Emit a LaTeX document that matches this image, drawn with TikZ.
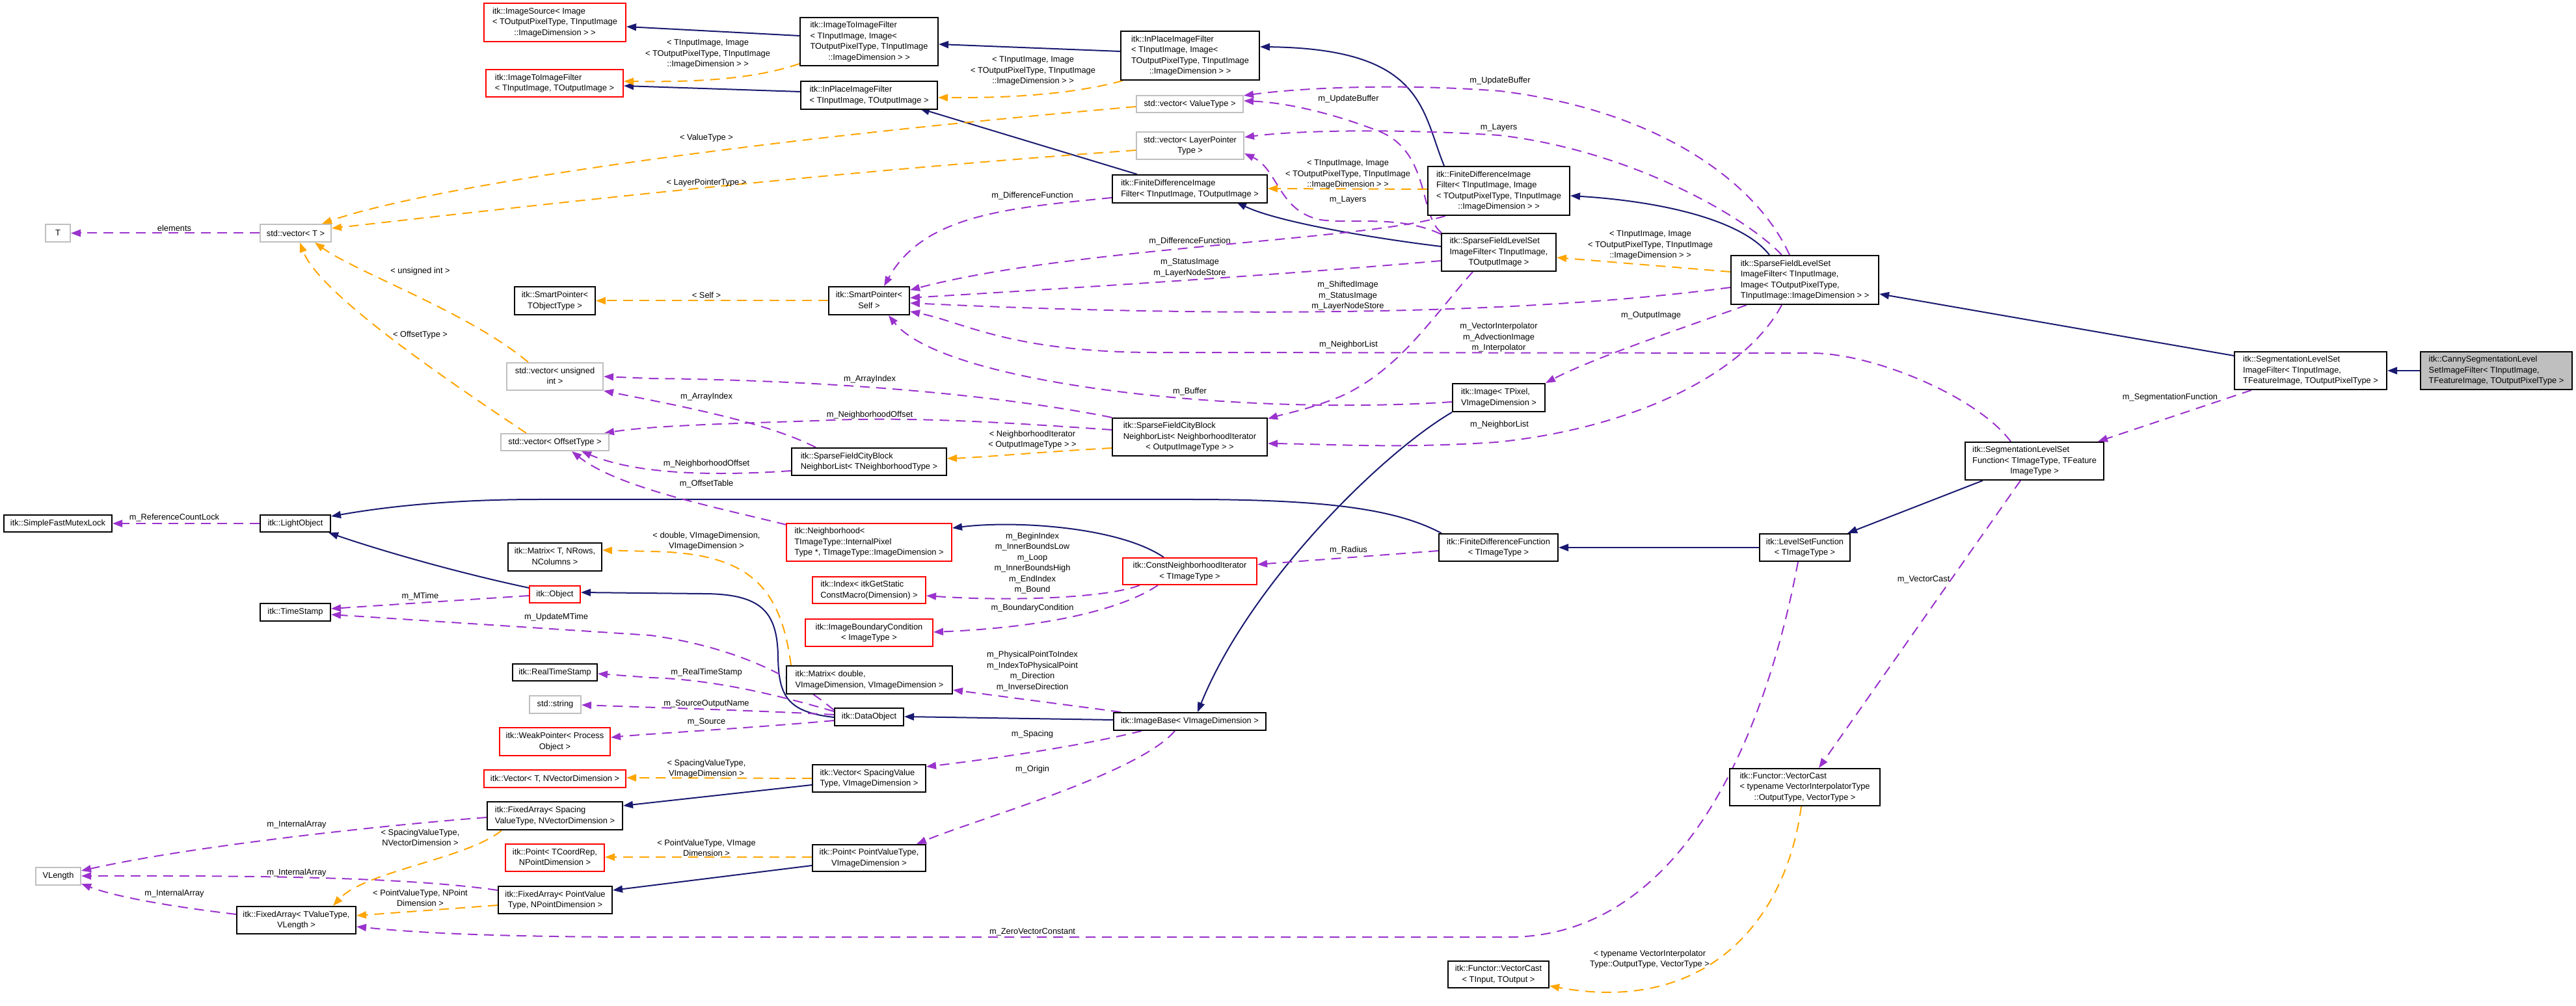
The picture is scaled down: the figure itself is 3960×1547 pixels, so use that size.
\documentclass[tikz,border=0pt]{standalone}
\usepackage{fontspec}
\setmainfont{Liberation Sans}
\usetikzlibrary{arrows.meta,calc}
\definecolor{inhC}{HTML}{191970}
\definecolor{memC}{HTML}{9A32CD}
\definecolor{tplC}{HTML}{FFA500}
\definecolor{redC}{HTML}{FF0000}
\definecolor{greyC}{HTML}{BFBFBF}
\newcommand{\nf}{\fontsize{3.65}{4.69}\selectfont}
\newcommand{\dxml}[2]{\begin{tabular}{@{}l@{}}#1\\\multicolumn{1}{@{}c@{}}{#2}\end{tabular}}
\newcommand{\dxnode}[7]{\node[#2, minimum width={(#5-#3)*0.1mm}, minimum height={(#6-#4)*0.1mm}] (#1) at ({(#3+#5)/2},{(#4+#6)/2}) {#7};}
\pgfdeclarelayer{bg}
\pgfsetlayers{bg,main}
\tikzset{
  cls/.style={draw=black, fill=white, line width=0.2mm, inner sep=0.3mm, font=\nf},
  clsred/.style={cls, draw=redC},
  clsgrey/.style={cls, draw=greyC},
  clscur/.style={cls, fill=greyC},
  elab/.style={font=\nf, align=center, inner sep=0},
  inh/.style={draw=inhC, line width=0.2mm, -{Triangle[length=1.5mm,width=1.1mm]}},
  mem/.style={draw=memC, line width=0.2mm, dash pattern=on 1.5mm off 1mm, -{Triangle[length=1.5mm,width=1.1mm]}},
  tpl/.style={draw=tplC, line width=0.2mm, dash pattern=on 1.5mm off 1mm, -{Triangle[length=1.5mm,width=1.1mm]}}
}
\begin{document}
\begin{tikzpicture}[x=0.1mm, y=-0.1mm]
\begin{pgfonlayer}{bg}
\fill[white] (0,0) rectangle (3960,1547);
\end{pgfonlayer}
\path[use as bounding box] (0,0) rectangle (3960,1547);

% ---------------- classes ----------------
\dxnode{ImgSrc}{clsred}{744}{5}{962}{64}{\dxml{itk::ImageSource< Image\\< TOutputPixelType, TInputImage}{::ImageDimension > >}}
\dxnode{I2IF}{clsred}{747}{107}{958}{149}{\dxml{itk::ImageToImageFilter}{< TInputImage, TOutputImage >}}
\dxnode{T}{clsgrey}{70}{345}{108}{372}{T}
\dxnode{VecT}{clsgrey}{400}{345}{509}{372}{std::vector< T >}
\dxnode{SPTObj}{cls}{791}{441}{915}{484}{\dxml{itk::SmartPointer<}{TObjectType >}}
\dxnode{I2IFImg}{cls}{1230}{27}{1442}{101}{\dxml{itk::ImageToImageFilter\\< TInputImage, Image<\\TOutputPixelType, TInputImage}{::ImageDimension > >}}
\dxnode{IPIFImg}{cls}{1723}{48}{1936}{123}{\dxml{itk::InPlaceImageFilter\\< TInputImage, Image<\\TOutputPixelType, TInputImage}{::ImageDimension > >}}
\dxnode{IPIF}{cls}{1231}{125}{1441}{168}{\dxml{itk::InPlaceImageFilter}{< TInputImage, TOutputImage >}}
\dxnode{VecVal}{clsgrey}{1747}{147}{1911}{173}{std::vector< ValueType >}
\dxnode{VecLP}{clsgrey}{1747}{203}{1912}{245}{\dxml{std::vector< LayerPointer}{Type >}}
\dxnode{FDIF}{cls}{1710}{269}{1948}{312}{\dxml{itk::FiniteDifferenceImage}{Filter< TInputImage, TOutputImage >}}
\dxnode{SPSelf}{cls}{1274}{441}{1398}{484}{\dxml{itk::SmartPointer<}{Self >}}
\dxnode{FDIFImg}{cls}{2195}{256}{2413}{331}{\dxml{itk::FiniteDifferenceImage\\Filter< TInputImage, Image\\< TOutputPixelType, TInputImage}{::ImageDimension > >}}
\dxnode{SFLS}{cls}{2216}{359}{2392}{417}{\dxml{itk::SparseFieldLevelSet\\ImageFilter< TInputImage,}{TOutputImage >}}
\dxnode{SFLSImg}{cls}{2661}{393}{2888}{468}{\dxml{itk::SparseFieldLevelSet\\ImageFilter< TInputImage,\\Image< TOutputPixelType,}{TInputImage::ImageDimension > >}}
\dxnode{SegF}{cls}{3435}{541}{3669}{599}{\dxml{itk::SegmentationLevelSet\\ImageFilter< TInputImage,}{TFeatureImage, TOutputPixelType >}}
\dxnode{Canny}{clscur}{3721}{541}{3954}{599}{\dxml{itk::CannySegmentationLevel\\SetImageFilter< TInputImage,}{TFeatureImage, TOutputPixelType >}}
\dxnode{SegFn}{cls}{3021}{680}{3234}{738}{\dxml{itk::SegmentationLevelSet\\Function< TImageType, TFeature}{ImageType >}}
\dxnode{VecUInt}{clsgrey}{779}{558}{927}{600}{\dxml{std::vector< unsigned}{int >}}
\dxnode{VecOff}{clsgrey}{770}{667}{936}{693}{std::vector< OffsetType >}
\dxnode{SFML}{cls}{6}{792}{172}{818}{itk::SimpleFastMutexLock}
\dxnode{LightObj}{cls}{400}{792}{508}{818}{itk::LightObject}
\dxnode{MatT}{cls}{781}{835}{925}{878}{\dxml{itk::Matrix< T, NRows,}{NColumns >}}
\dxnode{Obj}{clsred}{814}{901}{892}{927}{itk::Object}
\dxnode{TS}{cls}{400}{928}{508}{955}{itk::TimeStamp}
\dxnode{SFCBNLT}{cls}{1217}{689}{1455}{731}{\dxml{itk::SparseFieldCityBlock}{NeighborList< TNeighborhoodType >}}
\dxnode{SFCBNLNI}{cls}{1710}{643}{1948}{701}{\dxml{itk::SparseFieldCityBlock\\NeighborList< NeighborhoodIterator}{< OutputImageType > >}}
\dxnode{Nbhd}{clsred}{1209}{805}{1463}{863}{\dxml{itk::Neighborhood<\\TImageType::InternalPixel}{Type *, TImageType::ImageDimension >}}
\dxnode{Idx}{clsred}{1249}{887}{1423}{928}{\dxml{itk::Index< itkGetStatic}{ConstMacro(Dimension) >}}
\dxnode{IBC}{clsred}{1238}{952}{1434}{994}{\dxml{itk::ImageBoundaryCondition}{< ImageType >}}
\dxnode{CNI}{clsred}{1726}{858}{1932}{899}{\dxml{itk::ConstNeighborhoodIterator}{< TImageType >}}
\dxnode{Img}{cls}{2233}{590}{2375}{633}{\dxml{itk::Image< TPixel,}{VImageDimension >}}
\dxnode{FDF}{cls}{2212}{821}{2395}{863}{\dxml{itk::FiniteDifferenceFunction}{< TImageType >}}
\dxnode{LSF}{cls}{2705}{821}{2844}{863}{\dxml{itk::LevelSetFunction}{< TImageType >}}
\dxnode{VCTyp}{cls}{2659}{1182}{2890}{1239}{\dxml{itk::Functor::VectorCast\\< typename VectorInterpolatorType}{::OutputType, VectorType >}}
\dxnode{VCIn}{cls}{2226}{1478}{2381}{1519}{\dxml{itk::Functor::VectorCast}{< TInput, TOutput >}}
\dxnode{MatD}{cls}{1209}{1024}{1464}{1067}{\dxml{itk::Matrix< double,}{VImageDimension, VImageDimension >}}
\dxnode{DataObj}{cls}{1283}{1089}{1389}{1116}{itk::DataObject}
\dxnode{ImgBase}{cls}{1712}{1096}{1946}{1123}{itk::ImageBase< VImageDimension >}
\dxnode{VecSp}{cls}{1249}{1176}{1423}{1218}{\dxml{itk::Vector< SpacingValue}{Type, VImageDimension >}}
\dxnode{PtPV}{cls}{1249}{1299}{1423}{1340}{\dxml{itk::Point< PointValueType,}{VImageDimension >}}
\dxnode{RTS}{cls}{788}{1021}{918}{1047}{itk::RealTimeStamp}
\dxnode{StdStr}{clsgrey}{814}{1070}{893}{1097}{std::string}
\dxnode{WeakPtr}{clsred}{768}{1119}{938}{1162}{\dxml{itk::WeakPointer< Process}{Object >}}
\dxnode{VecTN}{clsred}{744}{1184}{962}{1211}{itk::Vector< T, NVectorDimension >}
\dxnode{FASp}{cls}{749}{1233}{957}{1276}{\dxml{itk::FixedArray< Spacing}{ValueType, NVectorDimension >}}
\dxnode{PtTC}{clsred}{777}{1298}{929}{1340}{\dxml{itk::Point< TCoordRep,}{NPointDimension >}}
\dxnode{FAPV}{cls}{766}{1363}{941}{1405}{\dxml{itk::FixedArray< PointValue}{Type, NPointDimension >}}
\dxnode{VLength}{clsgrey}{55}{1334}{124}{1361}{VLength}
\dxnode{FATV}{cls}{364}{1394}{547}{1436}{\dxml{itk::FixedArray< TValueType,}{VLength >}}

% ---------------- edge labels ----------------
\node[elab] (lO1) at (1088,83) {< TInputImage, Image\\< TOutputPixelType, TInputImage\\::ImageDimension > >};
\node[elab] (lO2) at (1588,109) {< TInputImage, Image\\< TOutputPixelType, TInputImage\\::ImageDimension > >};
\node[elab] (lO8) at (2072,268) {< TInputImage, Image\\< TOutputPixelType, TInputImage\\::ImageDimension > >};
\node[elab] (lO9) at (2537,377) {< TInputImage, Image\\< TOutputPixelType, TInputImage\\::ImageDimension > >};
\node[elab] (lO3) at (1086,212) {< ValueType >};
\node[elab] (lO4) at (1086,281) {< LayerPointerType >};
\node[elab] (lO5) at (1086,454) {< Self >};
\node[elab] (lO6) at (646,417) {< unsigned int >};
\node[elab] (lO7) at (646,515) {< OffsetType >};
\node[elab] (lO10) at (1587,676) {< NeighborhoodIterator\\< OutputImageType > >};
\node[elab] (lO11) at (1086,832) {< double, VImageDimension,\\VImageDimension >};
\node[elab] (lO12) at (1086,1182) {< SpacingValueType,\\VImageDimension >};
\node[elab] (lO13) at (1086,1304) {< PointValueType, VImage\\Dimension >};
\node[elab] (lO14) at (646,1288) {< SpacingValueType,\\NVectorDimension >};
\node[elab] (lO15) at (646,1381) {< PointValueType, NPoint\\Dimension >};
\node[elab] (lO16) at (2536,1475) {< typename VectorInterpolator\\Type::OutputType, VectorType >};

\node[elab] (lM1) at (268,796) {m\_ReferenceCountLock};
\node[elab] (lM2) at (268,351) {elements};
\node[elab] (lM3) at (646,917) {m\_MTime};
\node[elab] (lM4) at (855,949) {m\_UpdateMTime};
\node[elab] (lM5) at (1086,1034) {m\_RealTimeStamp};
\node[elab] (lM6) at (1086,1082) {m\_SourceOutputName};
\node[elab] (lM7) at (1086,1110) {m\_Source};
\node[elab] (lM8) at (1587,301) {m\_DifferenceFunction};
\node[elab] (lM9) at (1829,371) {m\_DifferenceFunction};
\node[elab] (lM10) at (1829,412) {m\_StatusImage\\m\_LayerNodeStore};
\node[elab] (lM11) at (2072,455) {m\_ShiftedImage\\m\_StatusImage\\m\_LayerNodeStore};
\node[elab] (lM12) at (2304,519) {m\_VectorInterpolator\\m\_AdvectionImage\\m\_Interpolator};
\node[elab] (lM13) at (1829,602) {m\_Buffer};
\node[elab] (lM14) at (2073,152) {m\_UpdateBuffer};
\node[elab] (lM15) at (2072,307) {m\_Layers};
\node[elab] (lM16) at (2306,124) {m\_UpdateBuffer};
\node[elab] (lM17) at (2304,196) {m\_Layers};
\node[elab] (lM18) at (2073,530) {m\_NeighborList};
\node[elab] (lM19) at (2305,653) {m\_NeighborList};
\node[elab] (lM20) at (2538,485) {m\_OutputImage};
\node[elab] (lM21) at (1337,583) {m\_ArrayIndex};
\node[elab] (lM22) at (1086,610) {m\_ArrayIndex};
\node[elab] (lM23) at (1337,638) {m\_NeighborhoodOffset};
\node[elab] (lM24) at (1086,713) {m\_NeighborhoodOffset};
\node[elab] (lM25) at (1086,744) {m\_OffsetTable};
\node[elab] (lM26) at (1587,866) {m\_BeginIndex\\m\_InnerBoundsLow\\m\_Loop\\m\_InnerBoundsHigh\\m\_EndIndex\\m\_Bound};
\node[elab] (lM27) at (1587,935) {m\_BoundaryCondition};
\node[elab] (lM28) at (2073,846) {m\_Radius};
\node[elab] (lM29) at (1587,1032) {m\_PhysicalPointToIndex\\m\_IndexToPhysicalPoint\\m\_Direction\\m\_InverseDirection};
\node[elab] (lM30) at (1587,1129) {m\_Spacing};
\node[elab] (lM31) at (1587,1183) {m\_Origin};
\node[elab] (lM32) at (456,1268) {m\_InternalArray};
\node[elab] (lM33) at (456,1342) {m\_InternalArray};
\node[elab] (lM34) at (268,1374) {m\_InternalArray};
\node[elab] (lM35) at (1587,1433) {m\_ZeroVectorConstant};
\node[elab] (lM36) at (3336,611) {m\_SegmentationFunction};
\node[elab] (lM37) at (2957,891) {m\_VectorCast};

% ---------------- edges ----------------
\begin{pgfonlayer}{bg}
% inheritance
\draw[inh] ($(I2IFImg.north west)+(0,29)$) -- ($(ImgSrc.north east)+(0,37)$);
\draw[inh] ($(IPIF.north west)+(0,17)$) -- ($(I2IF.north east)+(0,26)$);
\draw[inh] ($(IPIFImg.north west)+(0,32)$) -- ($(I2IFImg.north east)+(0,42)$);
\draw[inh] ($(FDIF.north west)+(39,0)$) -- ($(IPIF.north west)+(184,43)$);
\draw[inh] ($(FDIFImg.north west)+(26,0)$) .. controls (2185,170) and (2190,75) .. ($(IPIFImg.north east)+(0,25)$);
\draw[inh] ($(SFLSImg.north west)+(60,0)$) .. controls (2680,340) and (2560,310) .. ($(FDIFImg.north east)+(0,46)$);
\draw[inh] ($(SFLS.north west)+(0,21)$) .. controls (2100,365) and (1960,340) .. ($(FDIF.north west)+(192,43)$);
\draw[inh] ($(SegF.north west)+(0,7)$) -- ($(SFLSImg.north east)+(0,60)$);
\draw[inh] (Canny.west) -- (SegF.east);
\draw[inh] ($(SegFn.south west)+(28,0)$) -- ($(LSF.north east)+(-5,0)$);
\draw[inh] (LSF.west) -- (FDF.east);
\draw[inh] ($(FDF.north west)+(5,0)$) .. controls (2150,785) and (2050,768) .. (1829,768) -- (830,768) .. controls (700,768) and (600,778) .. ($(LightObj.north east)+(0,3)$);
\draw[inh] ($(Obj.north west)+(0,4)$) .. controls (700,880) and (580,845) .. ($(LightObj.south east)+(-4,0)$);
\draw[inh] ($(DataObj.north west)+(0,15)$) .. controls (1210,1095) and (1197,1070) .. (1196,1010) .. controls (1195,940) and (1170,913) .. (1080,913) -- ($(Obj.north east)+(0,11)$);
\draw[inh] ($(ImgBase.north west)+(0,12)$) -- ($(DataObj.north east)+(0,14)$);
\draw[inh] (Img.south west) .. controls (2120,700) and (1920,900) .. ($(ImgBase.north west)+(130,0)$);
\draw[inh] ($(CNI.north west)+(64,0)$) .. controls (1720,810) and (1560,800) .. ($(Nbhd.north east)+(0,8)$);
\draw[inh] ($(VecSp.north west)+(0,32)$) -- ($(FASp.north east)+(0,7)$);
\draw[inh] ($(PtPV.north west)+(0,33)$) -- ($(FAPV.north east)+(0,7)$);

% members
\draw[mem] (LightObj.west) -- (SFML.east);
\draw[mem] (VecT.west) -- (T.east);
\draw[mem] ($(Obj.north west)+(0,16)$) -- ($(TS.north east)+(0,9)$);
\draw[mem] ($(DataObj.north west)+(0,4)$) .. controls (1220,1040) and (1130,995) .. (1000,977) -- ($(TS.north east)+(0,18)$);
\draw[mem] ($(DataObj.north west)+(0,6)$) .. controls (1200,1070) and (1100,1045) .. (1000,1042) -- ($(RTS.north east)+(0,16)$);
\draw[mem] ($(DataObj.north west)+(0,11)$) .. controls (1150,1092) and (1000,1088) .. ($(StdStr.north east)+(0,15)$);
\draw[mem] ($(DataObj.north west)+(0,20)$) .. controls (1150,1120) and (1000,1128) .. ($(WeakPtr.north east)+(0,16)$);
\draw[mem] ($(FDIF.north west)+(0,36)$) .. controls (1550,320) and (1420,330) .. ($(SPSelf.north west)+(86,0)$);
\draw[mem] ($(FDIFImg.south west)+(28,0)$) .. controls (2100,370) and (1650,380) .. ($(SPSelf.north east)+(0,6)$);
\draw[mem] ($(SFLS.north west)+(0,43)$) .. controls (2000,420) and (1700,440) .. ($(SPSelf.north east)+(0,18)$);
\draw[mem] ($(SFLSImg.north west)+(0,50)$) .. controls (2300,490) and (1800,485) .. ($(SPSelf.north east)+(0,26)$);
\draw[mem] ($(SegFn.north west)+(71,0)$) .. controls (3040,610) and (2880,543) .. (2784,543) -- (1765,542) .. controls (1550,540) and (1480,495) .. ($(SPSelf.north east)+(0,39)$);
\draw[mem] ($(Img.north west)+(0,29)$) .. controls (1900,640) and (1450,590) .. ($(SPSelf.south west)+(93,0)$);
\draw[mem] ($(SFLS.north west)+(1,0)$) .. controls (2180,330) and (2200,230) .. (2115,200) .. controls (2050,175) and (1980,158) .. ($(VecVal.north east)+(0,9)$);
\draw[mem] ($(SFLS.north west)+(0,2)$) .. controls (2150,330) and (2080,345) .. (2030,338) .. controls (1965,325) and (1965,260) .. ($(VecLP.north east)+(0,34)$);
\draw[mem] ($(SFLSImg.north west)+(91,0)$) .. controls (2700,280) and (2550,170) .. (2306,140) .. controls (2150,128) and (2000,135) .. ($(VecVal.north east)+(0,1)$);
\draw[mem] ($(SFLSImg.north west)+(79,0)$) .. controls (2680,330) and (2500,230) .. (2304,208) .. controls (2150,198) and (2000,200) .. ($(VecLP.north east)+(0,9)$);
\draw[mem] ($(SFLS.south west)+(49,0)$) .. controls (2200,490) and (2150,570) .. (2060,610) .. controls (2010,630) and (1980,635) .. ($(SFCBNLNI.north east)+(0,2)$);
\draw[mem] ($(SFLSImg.south west)+(79,0)$) .. controls (2680,580) and (2500,660) .. (2300,680) .. controls (2150,690) and (2050,683) .. ($(SFCBNLNI.north east)+(0,40)$);
\draw[mem] ($(SFLSImg.south west)+(25,0)$) .. controls (2600,500) and (2450,550) .. (Img.north east);
\draw[mem] (SFCBNLNI.north west) .. controls (1550,610) and (1300,585) .. (1000,582) -- ($(VecUInt.north east)+(0,22)$);
\draw[mem] ($(SFCBNLT.north west)+(38,0)$) .. controls (1180,650) and (1050,625) .. (VecUInt.south east);
\draw[mem] ($(SFCBNLNI.north west)+(0,19)$) .. controls (1550,650) and (1400,640) .. (1255,647) .. controls (1100,652) and (1000,655) .. ($(VecOff.north east)+(-8,0)$);
\draw[mem] ($(SFCBNLT.north west)+(0,36)$) .. controls (1100,732) and (980,730) .. ($(VecOff.south east)+(-43,0)$);
\draw[mem] ($(Nbhd.north west)+(1,3)$) .. controls (1100,780) and (950,750) .. ($(VecOff.south west)+(110,0)$);
\draw[mem] ($(CNI.south west)+(27,0)$) .. controls (1700,920) and (1550,925) .. ($(Idx.north east)+(0,30)$);
\draw[mem] ($(CNI.south west)+(55,0)$) .. controls (1720,940) and (1600,965) .. ($(IBC.north east)+(0,21)$);
\draw[mem] ($(FDF.north west)+(0,27)$) -- ($(CNI.north east)+(0,11)$);
\draw[mem] ($(ImgBase.north west)+(12,0)$) -- ($(MatD.north east)+(0,38)$);
\draw[mem] ($(ImgBase.south west)+(44,0)$) .. controls (1650,1150) and (1500,1170) .. ($(VecSp.north east)+(0,4)$);
\draw[mem] ($(ImgBase.south west)+(95,0)$) .. controls (1750,1190) and (1500,1260) .. ($(PtPV.north east)+(-15,0)$);
\draw[mem] ($(FASp.north west)+(0,25)$) .. controls (600,1268) and (300,1300) .. ($(VLength.north east)+(0,6)$);
\draw[mem] ($(FAPV.north west)+(0,7)$) .. controls (600,1345) and (300,1347) .. ($(VLength.north east)+(0,14)$);
\draw[mem] ($(FATV.north west)+(0,13)$) .. controls (270,1395) and (180,1380) .. ($(VLength.south east)+(0,-3)$);
\draw[mem] ($(LSF.south west)+(60,0)$) .. controls (2720,1100) and (2600,1441) .. (2319,1441) -- (1000,1441) .. controls (700,1441) and (600,1430) .. ($(FATV.north east)+(0,32)$);
\draw[mem] ($(SegF.south west)+(27,0)$) -- ($(SegFn.north east)+(-10,0)$);
\draw[mem] ($(SegFn.south west)+(86,0)$) -- ($(VCTyp.north west)+(138,0)$);

% template instances
\draw[tpl] ($(I2IFImg.south west)+(0,-4)$) .. controls (1150,125) and (1050,126) .. ($(I2IF.north east)+(0,19)$);
\draw[tpl] ($(IPIFImg.south west)+(4,0)$) .. controls (1650,145) and (1550,151) .. ($(IPIF.north east)+(0,26)$);
\draw[tpl] ($(VecVal.north west)+(0,18)$) .. controls (1100,220) and (650,290) .. ($(VecT.north east)+(-15,0)$);
\draw[tpl] ($(VecLP.north west)+(0,29)$) .. controls (1200,270) and (700,330) .. ($(VecT.north east)+(0,7)$);
\draw[tpl] (SPSelf.west) -- (SPTObj.east);
\draw[tpl] ($(VecUInt.north west)+(34,0)$) .. controls (720,480) and (550,420) .. ($(VecT.south west)+(85,0)$);
\draw[tpl] ($(VecOff.north west)+(40,0)$) .. controls (680,580) and (490,450) .. ($(VecT.south west)+(62,0)$);
\draw[tpl] ($(FDIFImg.north west)+(0,36)$) -- ($(FDIF.north east)+(0,22)$);
\draw[tpl] ($(SFLSImg.north west)+(0,26)$) -- ($(SFLS.north east)+(0,38)$);
\draw[tpl] ($(SFCBNLNI.north west)+(0,47)$) .. controls (1600,695) and (1500,704) .. ($(SFCBNLT.north east)+(0,17)$);
\draw[tpl] ($(MatD.north west)+(8,0)$) .. controls (1200,900) and (1150,850) .. (1000,848) -- ($(MatT.north east)+(0,12)$);
\draw[tpl] ($(VecSp.north west)+(0,22)$) -- ($(VecTN.north east)+(0,13)$);
\draw[tpl] ($(PtPV.north west)+(0,20)$) -- ($(PtTC.north east)+(0,21)$);
\draw[tpl] ($(FASp.south west)+(23,0)$) .. controls (720,1320) and (560,1340) .. ($(FATV.north west)+(149,0)$);
\draw[tpl] ($(FAPV.north west)+(0,30)$) -- ($(FATV.north east)+(0,15)$);
\draw[tpl] ($(VCTyp.south west)+(111,0)$) .. controls (2745,1420) and (2620,1560) .. ($(VCIn.north east)+(0,39)$);
\end{pgfonlayer}
\end{tikzpicture}
\end{document}
